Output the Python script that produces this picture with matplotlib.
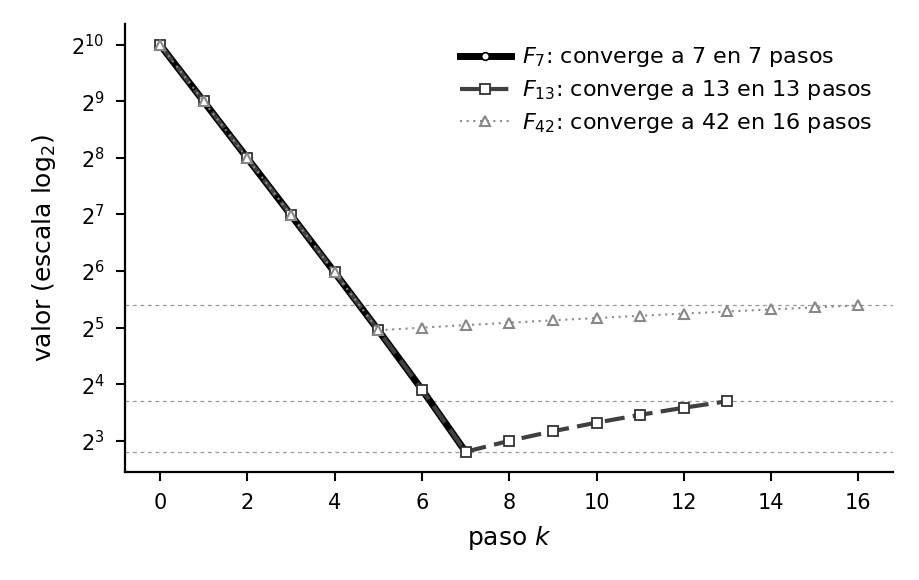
import matplotlib
matplotlib.use("Agg")
import matplotlib.pyplot as plt
from matplotlib.ticker import LogFormatterMathtext, FixedLocator

steps_f7 = list(range(0, 8))
vals_f7 = [1023, 511, 255, 127, 63, 31, 15, 7]
steps_f13 = list(range(0, 14))
vals_f13 = [1023, 511, 255, 127, 63, 31, 15, 7, 8, 9, 10, 11, 12, 13]
steps_f42 = list(range(0, 17))
vals_f42 = [1023, 511, 255, 127, 63, 31, 32, 33, 34, 35, 36, 37, 38, 39, 40, 41, 42]
targets = [7, 13, 42]
labels = [r"$F_{7}$: converge a 7 en 7 pasos",
          r"$F_{13}$: converge a 13 en 13 pasos",
          r"$F_{42}$: converge a 42 en 16 pasos"]
yticks = [2**k for k in range(3, 11)]
xticks = list(range(0, 17, 2))

fig = plt.figure(figsize=(9.2, 5.8), dpi=100)
ax = fig.add_axes([0.136, 0.186, 0.835, 0.772])

for t in targets:
    ax.axhline(t, color="#999999", lw=0.9, ls=(0, (3, 3)), zorder=1)

ax.plot(steps_f7, vals_f7, color="black", lw=5, marker="o", ms=5.5,
        mfc="white", mec="black", mew=1.2, label=labels[0], zorder=2)
ax.plot(steps_f13, vals_f13, color="#404040", lw=3, ls=(0, (4.8, 2)), marker="s",
        ms=6.5, mfc="white", mec="#333333", mew=1.3, label=labels[1], zorder=3)
ax.plot(steps_f42, vals_f42, color="#8c8c8c", lw=1.5, ls=(0, (1, 2.2)), marker="^",
        ms=7, mfc="white", mec="#888888", mew=1.5, label=labels[2], zorder=4)

ax.set_yscale("log", base=2)
ax.yaxis.set_major_locator(FixedLocator(yticks))
ax.yaxis.set_major_formatter(LogFormatterMathtext(base=2))
ax.yaxis.set_minor_locator(FixedLocator([]))
ax.set_xticks(xticks)

for s in ["top", "right"]:
    ax.spines[s].set_visible(False)
for s in ["left", "bottom"]:
    ax.spines[s].set_linewidth(1.6)
ax.tick_params(axis="both", which="major", direction="out", length=6.8, width=1.5,
               labelsize=15, pad=8)

ax.set_xlabel(r"paso $k$", fontsize=18, labelpad=8)
ax.set_ylabel(r"valor (escala log$_2$)", fontsize=18, labelpad=10)

ax.legend(loc="upper right", frameon=False, fontsize=16, handlelength=2.3,
          handletextpad=0.5, borderaxespad=0.55, labelspacing=0.4)

fig.savefig("out.png", dpi=100)
